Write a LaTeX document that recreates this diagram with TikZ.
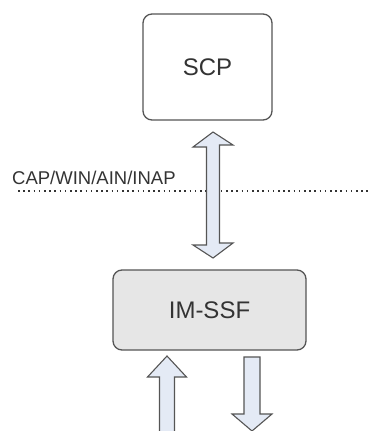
\documentclass[tikz,border=0pt]{standalone}
\usepackage{fontspec}
\setmainfont{Liberation Sans}
\usetikzlibrary{calc}
\definecolor{edge}{HTML}{555555}
\definecolor{ink}{HTML}{333333}
\definecolor{boxgray}{HTML}{E6E6E6}
\definecolor{pipe}{HTML}{E4EAF5}
\begin{document}
\begin{tikzpicture}[x=1pt,y=-1pt,
  entity/.style={draw=edge, line width=1.3pt, rounded corners=9pt, text=ink,
    font=\fontsize{24}{28}\selectfont},
  fatarrow/.style={draw=edge, fill=pipe, line width=1.1pt, line join=miter}]
\useasboundingbox (0,0) rectangle (369,431);

% function blocks
\draw[entity, fill=white] (143,14) rectangle (272,120);
\node[text=ink, font=\fontsize{24}{28}\selectfont] (scp) at (207.5,67) {SCP};
\draw[entity, fill=boxgray] (113,270) rectangle (306,350);
\node[text=ink, font=\fontsize{24}{28}\selectfont] (imssf) at (209.5,310) {IM-SSF};

% protocol boundary
\node[anchor=west, inner sep=0pt, text=ink, font=\fontsize{18.5}{22}\selectfont] (proto) at (12,178) {CAP/WIN/AIN/INAP};
\coordinate (lineL) at (18,191);
\coordinate (lineR) at (369,191);
\draw[ink, line width=1.6pt, dash pattern=on 1.6pt off 3.6pt] (lineL) -- (lineR);

% two-way interface between SCP and IM-SSF
\coordinate (dTop) at (213,132);
\coordinate (dBot) at (213,258);
\draw[fatarrow] (dTop) -- ++(20,13) -- ++(-13.5,0) -- ++(0,98) -- ++(13.5,0)
  -- (dBot) -- ++(-20,-13) -- ++(13.5,0) -- ++(0,-98) -- ++(-13.5,0) -- cycle;

% incoming and outgoing flows below IM-SSF
\coordinate (upTip) at (167,356);
\draw[fatarrow] (upTip) -- ++(19.5,21) -- ++(-12,0) -- ++(0,60) -- ++(-15,0)
  -- ++(0,-60) -- ++(-12,0) -- cycle;
\coordinate (downTop) at (252,357);
\draw[fatarrow] (downTop) ++(-8,0) -- ++(16,0) -- ++(0,57) -- ++(12,0)
  -- ++(-20,17) -- ++(-20,-17) -- ++(12,0) -- cycle;
\end{tikzpicture}
\end{document}
